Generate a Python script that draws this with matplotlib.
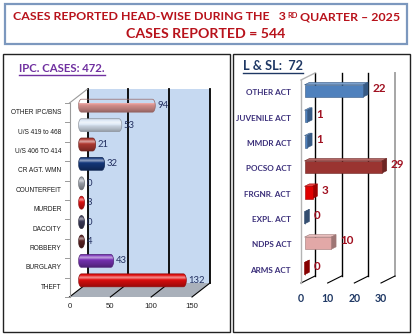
import numpy as np
import matplotlib
matplotlib.use("Agg")
import matplotlib.pyplot as plt
from matplotlib.patches import Rectangle, Polygon
from matplotlib.colors import to_rgb

# IPC heads, bottom to top
ipc_heads = ["THEFT", "BURGLARY", "ROBBERY", "DACOITY", "MURDER", "COUNTERFEIT",
             "CR AGT. WMN", "U/S 406 TO 414", "U/S 419 to 468", "OTHER IPC/BNS"]
ipc_cases = [132, 43, 4, 0, 3, 0, 32, 21, 53, 94]
ipc_colors = ["#E30E0E", "#7A33B8", "#5C2323", "#3A3A58", "#E31212", "#9FA4AE",
              "#15397E", "#B23B33", "#DCE7F5", "#E69B98"]
ipc_ticks = [0, 50, 100, 150]

# Local & special laws, bottom to top
lsl_heads = ["ARMS ACT", "NDPS ACT", "EXPL. ACT", "FRGNR. ACT", "POCSO ACT",
             "MMDR ACT", "JUVENILE ACT", "OTHER ACT"]
lsl_cases = [0, 10, 0, 3, 29, 1, 1, 22]
lsl_colors = ["#C00000", "#E2A8A7", "#4A6FA0", "#E00000", "#9A3431",
              "#4F81BD", "#4F81BD", "#4F81BD"]
lsl_ticks = [0, 10, 20, 30]

plt.rcParams["font.family"] = ["Lato", "DejaVu Sans"]
SANS = ["Liberation Sans", "DejaVu Sans"]

W, H = 412, 336
fig = plt.figure(figsize=(W / 100, H / 100), dpi=100)


def px_axes(x0, y0, x1, y1):
    return fig.add_axes([x0 / W, 1 - y1 / H, (x1 - x0) / W, (y1 - y0) / H])


def mix(c, amt):
    # amt > 0 lightens towards white, amt < 0 darkens towards black
    c = np.array(to_rgb(c))
    if amt >= 0:
        return c + (1 - c) * amt
    return c * (1 + amt)


def shift(ax, pts, dx, dy):
    # move data points by a pixel offset, return data points
    disp = ax.transData.transform(np.atleast_2d(pts)) + np.array([dx, dy])
    return ax.transData.inverted().transform(disp)


# background axes in pixel units for frames and headings
bg = fig.add_axes([0, 0, 1, 1])
bg.set_xlim(0, W)
bg.set_ylim(H, 0)
bg.axis("off")
bg.add_patch(Rectangle((5.5, 3.5), 402, 40.5, fill=False, ec="#7C98BE", lw=1.6))
bg.add_patch(Rectangle((3.5, 53.5), 226.5, 278.5, fill=False, ec="#222222", lw=1.0))
bg.add_patch(Rectangle((233.5, 53.5), 176.5, 278.5, fill=False, ec="#222222", lw=1.0))

red = "#B8121B"
t1 = bg.text(13, 20, "CASES REPORTED HEAD-WISE DURING THE   3", color=red,
             fontsize=8.9, fontweight="bold", ha="left", va="baseline")
t2 = bg.annotate("RD", xy=(1, 1), xycoords=t1, xytext=(1, -1), textcoords="offset pixels",
                 color=red, fontsize=5.4, fontweight="bold", ha="left", va="top")
t3 = bg.annotate(" QUARTER \u2013 2025", xy=(1, 0), xycoords=(t2, t1), color=red,
                 fontsize=8.9, fontweight="bold", ha="left", va="bottom")
bg.text(206, 38, "CASES REPORTED = 544", color=red, fontsize=10.2,
        fontweight="bold", ha="center", va="baseline")

h1 = bg.text(19, 72, "IPC. CASES: 472.", color="#7030A0", fontsize=8.2,
             fontweight="bold", ha="left", va="baseline")
h2 = bg.text(243, 70, "L & SL:  72", color="#1F3864", fontsize=9.2,
             fontweight="bold", ha="left", va="baseline")

# ---------------- IPC chart (cylinders) ----------------
ax1 = px_axes(69.5, 103, 192, 297)
ax1.set_xlim(0, 150)
ax1.set_ylim(-0.5, len(ipc_heads) - 0.5)
ax1.axis("off")
D1 = (18, 14)
ytop1 = len(ipc_heads) - 0.5

back = shift(ax1, [[0, -0.5], [150, -0.5], [150, ytop1], [0, ytop1]], *D1)
ax1.add_patch(Polygon(back, closed=True, fc="#C6D9F1", ec="none", zorder=1, clip_on=False))
floor = np.vstack([[[0, -0.5], [150, -0.5]], shift(ax1, [[150, -0.5], [0, -0.5]], *D1)])
ax1.add_patch(Polygon(floor, closed=True, fc="#A9B0BA", ec="none", zorder=1, clip_on=False))
for t in ipc_ticks:
    b0, b1 = shift(ax1, [[t, -0.5], [t, ytop1]], *D1)
    ax1.plot([b0[0], b1[0]], [b0[1], b1[1]], color="black", lw=1.3, zorder=2, clip_on=False)
    ax1.plot([t, b0[0]], [-0.5, b0[1]], color="black", lw=0.8, zorder=2, clip_on=False)
    ax1.annotate(str(t), xy=(t, -0.5), xytext=(0, -10), textcoords="offset pixels",
                 ha="center", va="center", fontsize=5.6, color="#222222",
                 family=SANS, annotation_clip=False)
# left side edges and tick marks
tl = shift(ax1, [[0, ytop1]], *D1)[0]
ax1.plot([0, 0], [-0.5, ytop1], color="#9A9A9A", lw=0.8, zorder=2, clip_on=False)
ax1.plot([0, tl[0]], [ytop1, tl[1]], color="#9A9A9A", lw=0.8, zorder=2, clip_on=False)
for k in range(len(ipc_heads) + 1):
    y = k - 0.5
    p = shift(ax1, [[0, y]], -5, 0)[0]
    ax1.plot([p[0], 0], [y, y], color="#9A9A9A", lw=0.7, zorder=2, clip_on=False)

for i, (name, v, c) in enumerate(zip(ipc_heads, ipc_cases, ipc_colors)):
    ax1.annotate(name, xy=(0, i), xytext=(-8, 0), textcoords="offset pixels",
                 ha="right", va="center", fontsize=4.7, color="#1A1A1A",
                 family=SANS, annotation_clip=False)
    # pill outline in display pixels, placed at half depth
    x0, yc = ax1.transData.transform((0, i)) + np.array(D1) * 0.5
    x1 = ax1.transData.transform((v, i))[0] + D1[0] * 0.5
    rx, ry = 3.0, 6.5
    cl = x0 + rx
    cr = max(x1 - rx, cl)
    a = np.linspace(-np.pi / 2, np.pi / 2, 40)
    b = np.linspace(np.pi / 2, 3 * np.pi / 2, 40)
    outline = np.vstack([np.column_stack([cr + rx * np.cos(a), yc + ry * np.sin(a)]),
                         np.column_stack([cl + rx * np.cos(b), yc + ry * np.sin(b)])])
    outline = ax1.transData.inverted().transform(outline)
    pill = Polygon(outline, closed=True, fc="none", ec=mix(c, -0.35), lw=0.5,
                   zorder=4, clip_on=False)
    ax1.add_patch(pill)
    # vertical shading for the cylinder look
    s = np.linspace(0, 1, 40)
    shade = 0.55 * np.exp(-((s - 0.74) / 0.13) ** 2) - 0.35 * (1 - s) ** 2 - 0.1 * s ** 6
    grad = np.array([mix(c, float(v_)) for v_ in shade])[:, None, :]
    (xl, yb), (xr, yt) = outline.min(axis=0), outline.max(axis=0)
    im = ax1.imshow(grad, extent=[xl, xr, yb, yt], origin="lower", aspect="auto",
                    interpolation="bilinear", zorder=3)
    im.set_clip_path(pill)
    ax1.annotate(str(v), xy=(outline[:, 0].max(), yc), xycoords=("data", "figure pixels"),
                 xytext=(2, 0), textcoords="offset pixels", ha="left", va="center",
                 fontsize=6.8, color="#233060", annotation_clip=False)
ax1.set_xlim(0, 150)
ax1.set_ylim(-0.5, ytop1)

# ---------------- L & SL chart (boxes) ----------------
ax2 = px_axes(301, 80, 381, 283)
ax2.set_xlim(0, 30)
ax2.set_ylim(-0.5, len(lsl_heads) - 0.5)
ax2.axis("off")
D2 = (14, 7)
ytop2 = len(lsl_heads) - 0.5

for t in lsl_ticks:
    b0, b1 = shift(ax2, [[t, -0.5], [t, ytop2]], *D2)
    gc = "#A6A6A6" if t == lsl_ticks[-1] else "black"
    ax2.plot([b0[0], b1[0]], [b0[1], b1[1]], color=gc, lw=1.4 if gc != "black" else 1.0,
             zorder=2, clip_on=False)
    ax2.plot([t, b0[0]], [-0.5, b0[1]], color="black", lw=0.8, zorder=2, clip_on=False)
    ax2.annotate(str(t), xy=(t, -0.5), xytext=(0, -15), textcoords="offset pixels",
                 ha="center", va="center", fontsize=7.6, fontweight="bold",
                 color="#1F3864", annotation_clip=False)
tl = shift(ax2, [[0, ytop2]], *D2)[0]
ax2.plot([0, 0], [-0.5, ytop2], color="#B4B4B4", lw=1.0, zorder=2, clip_on=False)
ax2.plot([0, tl[0]], [ytop2, tl[1]], color="#B4B4B4", lw=1.0, zorder=2, clip_on=False)

f1, f2, half = 0.25, 0.6, 0.24
for i, (name, v, c) in enumerate(zip(lsl_heads, lsl_cases, lsl_colors)):
    ax2.annotate(name, xy=(0, i), xytext=(-10, 0), textcoords="offset pixels",
                 ha="right", va="center", fontsize=5.9, fontweight="bold",
                 color="#3B2F7A", annotation_clip=False)
    front = shift(ax2, [[0, i - half], [v, i - half], [v, i + half], [0, i + half]],
                  D2[0] * f1, D2[1] * f1)
    rear = shift(ax2, [[0, i - half], [v, i - half], [v, i + half], [0, i + half]],
                 D2[0] * f2, D2[1] * f2)
    edge = mix(c, -0.3)
    ax2.add_patch(Polygon([front[3], front[2], rear[2], rear[3]], closed=True,
                          fc=mix(c, 0.25), ec=edge, lw=0.4, zorder=3, clip_on=False))
    ax2.add_patch(Polygon([front[1], rear[1], rear[2], front[2]], closed=True,
                          fc=mix(c, -0.3), ec=edge, lw=0.4, zorder=3, clip_on=False))
    ax2.add_patch(Polygon(front, closed=True, fc=c, ec=edge, lw=0.4, zorder=4,
                          clip_on=False))
    ax2.annotate(str(v), xy=(v, i), xytext=(D2[0] * f2 + 4, 4), textcoords="offset pixels",
                 ha="left", va="center", fontsize=8.4, fontweight="bold",
                 color="#A01020", annotation_clip=False)
ax2.set_xlim(0, 30)
ax2.set_ylim(-0.5, ytop2)

# underline the two panel headings
fig.canvas.draw()
renderer = fig.canvas.get_renderer()
for h in (h1, h2):
    bb = h.get_window_extent(renderer)
    (xa, ya), (xb, yb_) = bg.transData.inverted().transform([[bb.x0, bb.y0], [bb.x1, bb.y0]])
    bg.plot([xa, xb], [ya + 0.5, yb_ + 0.5], color=h.get_color(), lw=1.0)

fig.savefig("out.png", dpi=100)
